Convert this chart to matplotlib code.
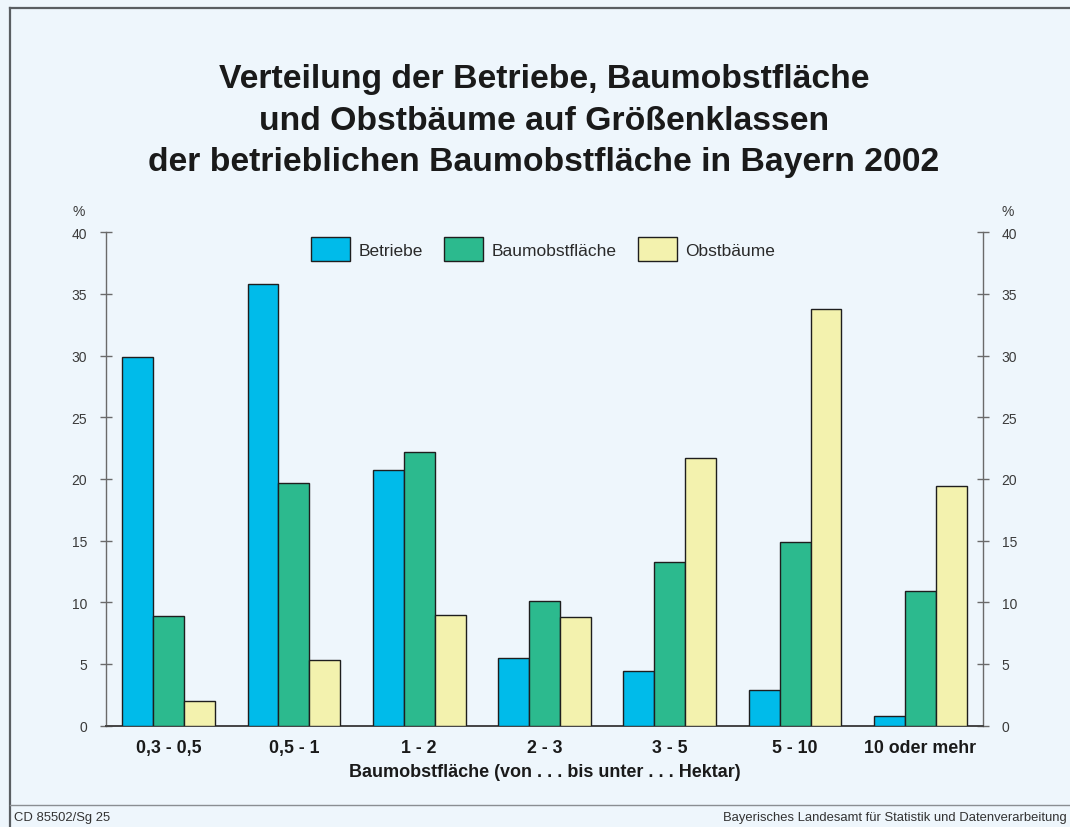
import matplotlib
matplotlib.use("Agg")

import numpy as np
import matplotlib.pyplot as plt
from matplotlib.patches import Patch
from matplotlib.lines import Line2D

plt.rcParams["font.family"] = ["Liberation Sans", "DejaVu Sans"]

# ---- Data ----
classes = ["0,3 - 0,5", "0,5 - 1", "1 - 2", "2 - 3", "3 - 5", "5 - 10", "10 oder mehr"]
betriebe = [29.9, 35.8, 20.7, 5.5, 4.4, 2.9, 0.8]
baumobstflaeche = [8.9, 19.7, 22.2, 10.1, 13.3, 14.9, 10.9]
obstbaeume = [2.0, 5.3, 9.0, 8.8, 21.7, 33.8, 19.4]
series_names = ["Betriebe", "Baumobstfläche", "Obstbäume"]
colors = ["#00bbea", "#2cba8e", "#f3f2ae"]
y_ticks = [0, 5, 10, 15, 20, 25, 30, 35, 40]

W, H = 1070, 828
bg = "#eef6fc"

fig = plt.figure(figsize=(W / 100, H / 100), dpi=100, facecolor=bg)

# ---- Axes ----
ax = fig.add_axes([106 / W, 1 - 726.5 / H, 877 / W, 493.2 / H])
ax.set_facecolor(bg)

x = np.arange(len(classes)) + 0.5
bw = 0.247
for i, vals in enumerate([betriebe, baumobstflaeche, obstbaeume]):
    ax.bar(x + (i - 1) * bw, vals, width=bw, color=colors[i],
           edgecolor="#1e1e1e", linewidth=1.0, zorder=3)

ax.set_xlim(0, len(classes))
ax.set_ylim(0, 40)

ax.spines["top"].set_visible(False)
for s in ["left", "right"]:
    ax.spines[s].set_color("#6a6a6a")
    ax.spines[s].set_linewidth(1.0)
ax.spines["bottom"].set_color("#444444")
ax.spines["bottom"].set_linewidth(1.4)

ax.set_yticks(y_ticks)
ax.tick_params(axis="y", which="both", direction="inout", length=9, width=1.0,
               color="#6a6a6a", labelsize=10, labelcolor="#3a3a3a",
               left=True, right=True, labelleft=True, labelright=True, pad=9)

ax.set_xticks(x)
ax.set_xticklabels(classes, fontsize=12.8, fontweight="bold", color="#1a1a1a")
ax.tick_params(axis="x", length=0, pad=10)
ax.set_xlabel("Baumobstfläche (von . . . bis unter . . . Hektar)", fontsize=13,
              fontweight="bold", color="#1a1a1a", labelpad=5)

# percent labels
fig.text(79 / W, 1 - 212 / H, "%", fontsize=10, color="#3a3a3a", ha="center", va="center")
fig.text(1008 / W, 1 - 212 / H, "%", fontsize=10, color="#3a3a3a", ha="center", va="center")

# ---- Legend ----
handles = [Patch(facecolor=c, edgecolor="#1e1e1e", linewidth=1.0) for c in colors]
fig.legend(handles, series_names, loc="center", bbox_to_anchor=(543 / W, 1 - 250 / H),
           ncol=3, frameon=False, fontsize=12.5, handlelength=2.25, handleheight=1.7,
           handletextpad=0.45, columnspacing=1.25, borderpad=0,
           labelcolor="#2a2a2a")

# ---- Title ----
fig.text(544 / W, 1 - 121 / H,
         "Verteilung der Betriebe, Baumobstfläche\n"
         "und Obstbäume auf Größenklassen\n"
         "der betrieblichen Baumobstfläche in Bayern 2002",
         ha="center", va="center", fontsize=24.3, fontweight="bold",
         color="#1a1a1a", linespacing=1.45)

# ---- Frame and footer ----
frame_c = "#5a5e62"
fig.add_artist(Line2D([10 / W, 10 / W], [0, 1 - 9 / H], transform=fig.transFigure,
                      color=frame_c, linewidth=1.6))
fig.add_artist(Line2D([10 / W, 1], [1 - 9 / H, 1 - 9 / H], transform=fig.transFigure,
                      color=frame_c, linewidth=1.6))
fig.add_artist(Line2D([10 / W, 1], [1 - 806 / H, 1 - 806 / H], transform=fig.transFigure,
                      color="#8a8e92", linewidth=1.0))

fig.text(14 / W, 1 - 818 / H, "CD 85502/Sg 25", fontsize=9.4, color="#333333",
         ha="left", va="center")
fig.text(1067 / W, 1 - 818 / H, "Bayerisches Landesamt für Statistik und Datenverarbeitung",
         fontsize=9.4, color="#333333", ha="right", va="center")

fig.savefig("out.png", dpi=100, facecolor=bg)
plt.close(fig)
